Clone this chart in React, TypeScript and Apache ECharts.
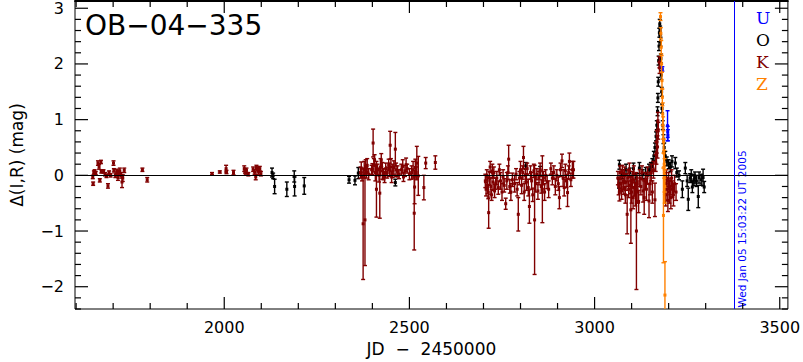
import React, { useEffect, useRef } from "react";
import * as echarts from "echarts";

// ---------- axis ranges & ticks ----------
const X_MIN = 1597;
const X_MAX = 3522;
const Y_MIN = -2.4;
const Y_MAX = 3.13;
const X_MAJOR = [2000, 2500, 3000, 3500];
const X_MINOR = [1600, 1700, 1800, 1900, 2100, 2200, 2300, 2400, 2600, 2700, 2800, 2900, 3100, 3200, 3300, 3400];
const Y_MAJOR = [-2, -1, 0, 1, 2, 3];
const Y_MINOR = [-2.4, -2.2, -1.8, -1.6, -1.4, -1.2, -0.8, -0.6, -0.4, -0.2, 0.2, 0.4, 0.6, 0.8, 1.2, 1.4, 1.6, 1.8, 2.2, 2.4, 2.6, 2.8];

const TITLE = "OB−04−335";
const NOW_JD = 3376;
const NOW_TEXT = "Wed Jan 05 15:03:22 UT 2005";
const LEGEND = ["U", "O", "K", "Z"];

// ---------- data: [JD-2450000, Δmag, error] ----------
// K (dark red)
const K_DATA: number[][] = [
  [1645, -0.03, 0.03], [1646, -0.15, 0.03], [1648, 0.05, 0.03], [1650, 0.07, 0.03], [1653, 0.04, 0.03],
  [1659, 0.22, 0.04], [1662, 0.15, 0.04], [1664, -0.09, 0.03], [1667, 0.24, 0.03], [1668, 0.07, 0.03],
  [1674, 0.07, 0.03], [1678, 0.02, 0.03], [1682, -0.01, 0.03], [1686, -0.19, 0.04], [1689, 0.05, 0.03],
  [1693, 0.0, 0.03], [1701, 0.22, 0.04], [1702, 0.09, 0.03], [1706, 0.0, 0.04], [1710, 0.07, 0.04],
  [1713, -0.04, 0.05], [1715, 0.04, 0.05], [1718, 0.08, 0.05], [1722, 0.0, 0.05], [1724, -0.12, 0.1],
  [1726, -0.05, 0.06], [1730, 0.09, 0.04], [1779, 0.1, 0.03], [1792, -0.08, 0.04],
  [1967, 0.03, 0.02], [1988, 0.06, 0.02], [2005, 0.12, 0.06], [2006, 0.06, 0.03], [2025, 0.05, 0.04],
  [2054, 0.12, 0.05], [2056, 0.08, 0.04], [2058, 0.05, 0.03], [2060, 0.09, 0.04], [2065, 0.02, 0.03],
  [2078, 0.11, 0.04], [2082, 0.06, 0.04], [2085, -0.03, 0.05], [2087, 0.14, 0.04], [2090, 0.1, 0.04],
  [2093, 0.07, 0.05], [2096, 0.12, 0.04], [2099, 0.03, 0.04],
  [2368, 0.05, 0.1], [2370, 0.12, 0.12], [2372, -0.02, 0.08], [2375, -0.87, 1.0], [2378, 0.1, 0.15],
  [2380, -0.8, 0.82], [2382, 0.16, 0.12], [2384, 0.05, 0.1], [2386, 0.18, 0.12], [2390, 0.02, 0.1],
  [2398, 0.1, 0.08], [2400, 0.11, 0.1], [2402, 0.58, 0.25], [2404, 0.18, 0.12], [2406, 0.27, 0.1],
  [2408, 0.05, 0.15], [2411, -0.25, 0.5], [2414, 0.1, 0.1], [2418, 0.0, 0.12], [2420, -0.32, 0.45],
  [2422, 0.15, 0.15], [2424, 0.27, 0.12], [2427, 0.08, 0.15], [2430, 0.02, 0.1], [2433, -0.03, 0.1],
  [2436, 0.12, 0.1], [2440, 0.05, 0.1], [2444, 0.19, 0.1], [2446, 0.1, 0.12], [2448, 0.54, 0.25],
  [2450, 0.15, 0.15], [2452, -0.03, 0.1], [2455, 0.08, 0.12], [2458, 0.14, 0.12], [2462, 0.47, 0.3],
  [2464, 0.1, 0.12], [2468, 0.07, 0.1], [2472, 0.02, 0.08], [2478, 0.1, 0.1], [2482, 0.16, 0.12],
  [2484, -0.03, 0.08], [2488, 0.08, 0.1], [2491, 0.19, 0.12], [2494, 0.12, 0.08], [2500, 0.02, 0.1],
  [2506, 0.05, 0.12], [2510, 0.1, 0.15], [2513, -0.68, 0.66], [2514, -0.21, 0.3], [2516, 0.14, 0.15],
  [2518, 0.05, 0.1], [2520, 0.22, 0.3], [2524, -0.01, 0.35], [2539, -0.22, 0.22], [2544, 0.22, 0.1],
  [2570, 0.23, 0.12],
  [2705, -0.1, 0.12], [2707, -0.25, 0.12], [2709, 0.0, 0.1], [2711, -0.18, 0.15], [2713, -0.3, 0.12],
  [2714, -0.67, 0.28], [2716, -0.05, 0.12], [2718, 0.15, 0.1], [2720, -0.2, 0.15], [2722, -0.35, 0.1],
  [2724, 0.08, 0.12], [2726, -0.12, 0.15], [2728, 0.05, 0.1], [2730, -0.28, 0.12], [2733, -0.15, 0.1],
  [2736, -0.05, 0.12], [2740, -0.22, 0.12], [2743, 0.1, 0.1], [2746, -0.1, 0.15], [2750, -0.3, 0.15],
  [2753, -0.02, 0.12], [2756, -0.18, 0.12], [2760, -0.51, 0.1], [2763, -0.1, 0.15], [2766, 0.05, 0.12],
  [2768, 0.29, 0.25], [2771, -0.2, 0.12], [2774, -0.3, 0.15], [2778, -0.08, 0.12], [2784, -0.15, 0.15],
  [2788, 0.02, 0.1], [2791, -0.25, 0.12], [2794, -0.7, 0.3], [2797, -0.05, 0.12], [2800, 0.1, 0.15],
  [2803, -0.18, 0.15], [2806, 0.05, 0.12], [2808, 0.32, 0.2], [2810, -0.3, 0.15], [2813, 0.0, 0.12],
  [2816, -0.12, 0.15], [2818, 0.12, 0.1], [2821, -0.22, 0.15], [2824, -0.56, 0.3], [2827, 0.05, 0.12],
  [2830, -0.1, 0.15], [2833, -0.35, 0.12], [2836, 0.08, 0.12], [2838, -0.8, 0.98], [2841, -0.15, 0.15],
  [2844, 0.02, 0.1], [2847, -0.28, 0.15], [2850, -0.05, 0.12], [2853, 0.1, 0.12], [2856, -0.2, 0.12],
  [2859, -0.25, 0.6], [2862, -0.05, 0.12], [2865, -0.3, 0.15], [2868, 0.0, 0.1], [2872, -0.12, 0.12],
  [2876, -0.25, 0.15], [2882, 0.12, 0.1], [2886, -0.05, 0.12], [2890, 0.05, 0.12], [2894, -0.2, 0.15],
  [2898, 0.0, 0.1], [2902, -0.15, 0.12], [2905, -0.4, 0.2], [2908, 0.1, 0.12], [2912, 0.26, 0.12],
  [2915, -0.05, 0.15], [2918, -0.22, 0.15], [2921, 0.08, 0.12], [2924, -0.1, 0.12], [2927, -0.31, 0.25],
  [2930, 0.05, 0.12], [2932, 0.25, 0.15], [2936, -0.08, 0.12], [2940, 0.1, 0.15], [2943, 0.1, 0.15],
  [3063, -0.05, 0.12], [3065, -0.2, 0.15], [3067, -0.31, 0.15], [3069, 0.05, 0.12], [3071, -0.15, 0.12],
  [3073, -0.28, 0.15], [3075, 0.08, 0.1], [3077, -0.1, 0.15], [3079, -0.22, 0.12], [3081, 0.0, 0.15],
  [3083, -0.35, 0.15], [3085, -0.12, 0.15], [3088, -0.7, 0.35], [3090, -0.05, 0.15], [3092, -0.25, 0.15],
  [3094, 0.1, 0.12], [3096, -0.18, 0.15], [3098, -0.62, 0.6], [3100, -0.3, 0.2], [3102, -0.08, 0.15],
  [3104, -0.4, 0.2], [3106, 0.02, 0.15], [3108, -0.22, 0.15], [3110, -0.35, 0.2], [3113, -1.0, 1.05],
  [3115, -0.15, 0.15], [3117, -0.3, 0.2], [3119, -0.47, 0.2], [3122, -0.05, 0.15], [3125, -0.2, 0.15],
  [3128, 0.05, 0.12], [3131, -0.28, 0.2], [3134, -0.4, 0.3], [3137, -0.1, 0.15], [3140, -0.25, 0.2],
  [3143, 0.0, 0.15], [3147, -0.46, 0.3], [3150, -0.15, 0.2], [3153, 0.05, 0.15], [3156, -0.3, 0.2],
  [3159, 0.1, 0.15], [3163, -0.44, 0.3], [3165, 0.22, 0.15], [3167, 0.4, 0.2], [3168, 0.6, 0.2],
  [3170, 0.51, 0.2], [3171, 0.98, 0.15], [3172, 0.8, 0.15], [3175, 2.03, 0.1], [3175.5, 1.93, 0.1],
  [3190, -0.15, 0.2], [3192, -0.35, 0.2], [3194, -0.05, 0.15], [3196, -0.25, 0.2], [3198, -0.45, 0.2],
  [3200, -0.1, 0.15], [3202, -0.3, 0.2], [3204, -0.2, 0.15], [3206, -0.4, 0.2], [3208, -0.05, 0.15],
  [3210, -0.25, 0.15], [3213, -0.35, 0.2], [3216, -0.15, 0.15], [3220, -0.3, 0.15],
];

// O (black)
const O_DATA: number[][] = [
  [2129, 0.05, 0.08], [2132, -0.01, 0.05], [2136, -0.2, 0.13], [2169, -0.25, 0.13], [2189, -0.02, 0.1],
  [2190, -0.2, 0.17], [2216, -0.19, 0.15],
  [2337, -0.08, 0.06], [2353, -0.09, 0.08], [2362, 0.04, 0.1], [2462, -0.13, 0.06],
  [2814, 0.17, 0.06], [2853, 0.08, 0.08],
  [3066, -0.15, 0.08], [3067, 0.19, 0.08], [3075, 0.02, 0.08], [3085, 0.1, 0.1], [3095, 0.05, 0.08],
  [3105, 0.12, 0.1], [3112, -0.05, 0.08], [3121, 0.13, 0.1], [3130, 0.02, 0.08], [3138, 0.04, 0.1],
  [3147, 0.1, 0.1], [3152, 0.15, 0.08], [3156, 0.22, 0.08], [3160, 0.35, 0.08], [3163, 0.5, 0.08],
  [3166, 0.7, 0.08], [3168, 0.9, 0.08], [3170, 1.15, 0.08], [3171, 1.39, 0.08], [3172, 1.68, 0.08],
  [3173, 2.06, 0.08], [3174, 2.32, 0.08], [3175, 2.56, 0.08], [3176, 2.72, 0.08], [3177, 2.6, 0.08],
  [3178, 2.4, 0.08], [3179, 2.1, 0.08], [3180, 1.8, 0.08], [3181, 1.5, 0.08], [3182, 1.2, 0.08],
  [3184, 0.9, 0.08], [3186, 0.65, 0.08], [3188, 0.5, 0.08], [3191, 0.35, 0.08], [3195, 0.25, 0.08],
  [3200, 0.2, 0.08], [3205, 0.15, 0.08], [3209, 0.25, 0.1], [3218, 0.22, 0.1], [3222, 0.05, 0.08],
  [3228, 0.0, 0.08], [3237, -0.25, 0.15], [3245, 0.13, 0.1], [3250, -0.1, 0.1], [3253, -0.43, 0.2],
  [3258, -0.05, 0.08], [3261, 0.0, 0.1], [3264, -0.21, 0.1], [3268, -0.08, 0.1], [3271, -0.04, 0.1],
  [3275, -0.1, 0.1], [3280, -0.38, 0.2], [3282, -0.04, 0.1], [3288, -0.08, 0.1], [3293, -0.04, 0.15],
  [3296, -0.21, 0.1],
];

// U (blue)
const U_DATA: number[][] = [
  [3183, 1.91, 0.04], [3197, 0.89, 0.27], [3197.5, 0.78, 0.1], [3198, 0.72, 0.1],
];

// Z (orange)
const Z_DATA: number[][] = [
  [3178, 2.85, 0.07], [3179, 2.55, 0.1], [3180, 2.3, 0.12], [3181, 2.0, 0.15], [3182, 1.7, 0.15],
  [3183, 1.4, 0.15], [3184, 1.1, 0.2], [3185, 0.85, 0.2], [3186, 0.6, 0.2], [3187, 0.4, 0.25],
  [3188, 0.2, 0.25], [3189, 0.0, 0.3], [3189.5, -0.2, 0.3], [3186, -0.72, 0.85], [3190, -2.15, 0.6],
];

const COLORS = { U: "#0000ff", O: "#000000", K: "#800000", Z: "#ff8000" };
const FONT = "DejaVu Sans";
const MAJOR_LEN = 12;
const MINOR_LEN = 6;

function errRender(color: string) {
  return (params: any, api: any) => {
    const x = api.value(0);
    const y = api.value(1);
    const e = api.value(2);
    const hiV = Math.min(y + e, Y_MAX);
    const loV = Math.max(y - e, Y_MIN);
    const pTop = api.coord([x, hiV]);
    const pBot = api.coord([x, loV]);
    const pc = api.coord([x, y]);
    const st = { stroke: color, lineWidth: 1.4 };
    const children: any[] = [
      { type: "line", shape: { x1: pTop[0], y1: pTop[1], x2: pBot[0], y2: pBot[1] }, style: st },
    ];
    if (y + e <= Y_MAX) children.push({ type: "line", shape: { x1: pTop[0] - 2, y1: pTop[1], x2: pTop[0] + 2, y2: pTop[1] }, style: st });
    if (y - e >= Y_MIN) children.push({ type: "line", shape: { x1: pBot[0] - 2, y1: pBot[1], x2: pBot[0] + 2, y2: pBot[1] }, style: st });
    if (y >= Y_MIN && y <= Y_MAX) children.push({ type: "rect", shape: { x: pc[0] - 1.5, y: pc[1] - 1.5, width: 3, height: 3 }, style: { fill: color } });
    return { type: "group", children };
  };
}

function errSeries(name: string, data: number[][], color: string) {
  return {
    type: "custom",
    name,
    xAxisIndex: 0,
    yAxisIndex: 0,
    data,
    encode: { x: 0, y: 1 },
    renderItem: errRender(color),
    silent: true,
    z: 3,
  };
}

// tick marks on all four sides: [x, y, length, orientation(0 = x tick, 1 = y tick)]
const TICK_DATA: number[][] = [
  ...X_MAJOR.map((v) => [v, 0, MAJOR_LEN, 0]),
  ...X_MINOR.map((v) => [v, 0, MINOR_LEN, 0]),
  ...Y_MAJOR.map((v) => [2500, v, MAJOR_LEN + 1, 1]),
  ...Y_MINOR.map((v) => [2500, v, MINOR_LEN, 1]),
];

function tickRender(params: any, api: any) {
  const xv = api.value(0);
  const yv = api.value(1);
  const len = api.value(2);
  const ori = api.value(3);
  const fill = { fill: "#000" };
  if (ori < 0.5) {
    const b = api.coord([xv, Y_MIN]);
    const t = api.coord([xv, Y_MAX]);
    return {
      type: "group",
      children: [
        { type: "rect", shape: { x: b[0] - 0.6, y: b[1] - len, width: 1.2, height: len }, style: fill },
        { type: "rect", shape: { x: t[0] - 0.6, y: t[1], width: 1.2, height: len }, style: fill },
      ],
    };
  }
  const l = api.coord([X_MIN, yv]);
  const r = api.coord([X_MAX, yv]);
  return {
    type: "group",
    children: [
      { type: "rect", shape: { x: l[0], y: l[1] - 0.6, width: len, height: 1.2 }, style: fill },
      { type: "rect", shape: { x: r[0] - len, y: r[1] - 0.6, width: len, height: 1.2 }, style: fill },
    ],
  };
}

const minus = (v: number) => String(v).replace("-", "−");

export default function App() {
  const ref = useRef<HTMLDivElement>(null);
  useEffect(() => {
    document.body.style.margin = "0";
    const chart = echarts.init(ref.current!, null, { renderer: "svg" });
    const legendGraphics = LEGEND.map((l, i) => ({
      type: "text",
      left: 756,
      top: 9 + i * 22,
      style: { text: l, fontSize: 17, fontFamily: "DejaVu Serif", fill: (COLORS as any)[l] },
    }));
    chart.setOption({
      animation: false,
      backgroundColor: "#fff",
      grid: { left: 66, top: 1, width: 723, height: 315, show: true, borderColor: "#000", borderWidth: 1, containLabel: false },
      xAxis: [
        {
          type: "value",
          min: X_MIN,
          max: X_MAX,
          position: "bottom",
          splitLine: { show: false },
          axisLine: { show: false, onZero: false },
          axisTick: { show: false },
          axisLabel: { customValues: X_MAJOR, margin: 10, fontSize: 16, fontFamily: FONT, color: "#000", formatter: (v: number) => String(v) },
          name: "JD  −  2450000",
          nameLocation: "middle",
          nameGap: 31,
          nameTextStyle: { fontSize: 17, fontFamily: FONT, color: "#000" },
        },
        {
          type: "value",
          min: X_MIN,
          max: X_MAX,
          position: "top",
          splitLine: { show: false },
          axisLine: { show: true, onZero: false, lineStyle: { color: "#000", width: 2 } },
          axisTick: { show: false },
          axisLabel: { show: false },
        },
      ],
      yAxis: [
        {
          type: "value",
          min: Y_MIN,
          max: Y_MAX,
          position: "left",
          splitLine: { show: false },
          axisLine: { show: false, onZero: false },
          axisTick: { show: false },
          axisLabel: { customValues: Y_MAJOR, margin: 11, fontSize: 16, fontFamily: FONT, color: "#000", formatter: minus },
          name: "Δ(I,R) (mag)",
          nameLocation: "middle",
          nameGap: 50,
          nameRotate: 90,
          nameTextStyle: { fontSize: 17, fontFamily: FONT, color: "#000" },
        },
      ],
      series: [
        {
          type: "line",
          xAxisIndex: 0,
          yAxisIndex: 0,
          data: [],
          silent: true,
          z: 1,
          markLine: {
            silent: true,
            symbol: "none",
            label: { show: false },
            lineStyle: { color: "#000", width: 1, type: "solid" },
            data: [{ yAxis: 0 }],
          },
        },
        {
          type: "line",
          xAxisIndex: 0,
          yAxisIndex: 0,
          data: [],
          silent: true,
          z: 1,
          color: "#0000ff",
          markLine: {
            silent: true,
            symbol: "none",
            label: { show: false },
            lineStyle: { color: "#0000ff", width: 1, type: "solid" },
            data: [{ xAxis: NOW_JD }],
          },
        },
        errSeries("O", O_DATA, COLORS.O),
        errSeries("K", K_DATA, COLORS.K),
        errSeries("U", U_DATA, COLORS.U),
        errSeries("Z", Z_DATA, COLORS.Z),
        {
          type: "custom",
          name: "ticks",
          xAxisIndex: 0,
          yAxisIndex: 0,
          data: TICK_DATA,
          encode: { x: 0, y: 1 },
          renderItem: tickRender,
          silent: true,
          z: 6,
        },
      ],
      graphic: [
        { type: "text", left: 85, top: 11, style: { text: TITLE, fontSize: 28, fontFamily: FONT, fill: "#000" } },
        {
          type: "text",
          x: 742,
          y: 229,
          rotation: Math.PI / 2,
          style: { text: NOW_TEXT, fontSize: 10.5, fontFamily: FONT, fill: "#0000ff", align: "center", verticalAlign: "middle" },
        },
        ...legendGraphics,
      ],
    });
    return () => chart.dispose();
  }, []);
  return <div ref={ref} style={{ width: 803, height: 362 }} />;
}
